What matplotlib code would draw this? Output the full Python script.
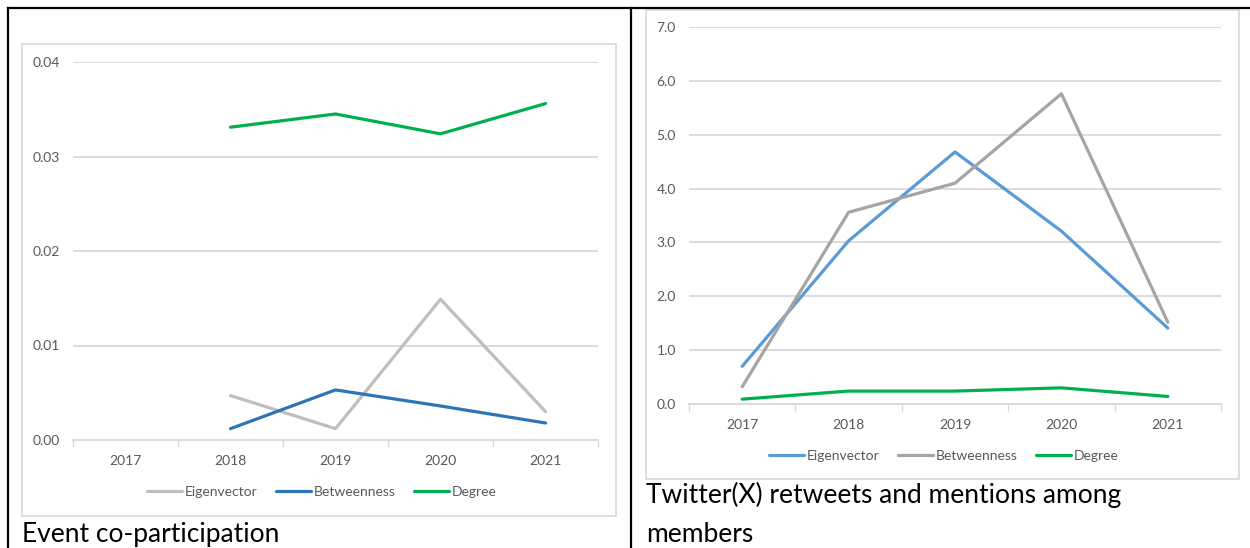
#!/usr/bin/env python3
"""Two Excel-style centrality line charts side by side, with captions, table borders."""

import matplotlib
matplotlib.use("Agg")
import matplotlib.pyplot as plt
from matplotlib.lines import Line2D
from matplotlib.patches import Rectangle

W, H = 1250, 548

years = ["2017", "2018", "2019", "2020", "2021"]

# Event co-participation (no value for 2017)
event_eigen = [None, 0.0047, 0.0012, 0.0149, 0.0030]
event_betw = [None, 0.0012, 0.0053, 0.0036, 0.0018]
event_degree = [None, 0.0331, 0.0345, 0.0324, 0.0356]
event_yticks = [0.00, 0.01, 0.02, 0.03, 0.04]

# Twitter(X) retweets and mentions
tw_eigen = [0.70, 3.03, 4.68, 3.21, 1.41]
tw_betw = [0.32, 3.56, 4.10, 5.76, 1.52]
tw_degree = [0.09, 0.24, 0.24, 0.30, 0.14]
tw_yticks = [0.0, 1.0, 2.0, 3.0, 4.0, 5.0, 6.0, 7.0]

FONT = "Lato"
TICK_COLOR = "#595959"
GRID_COLOR = "#D9D9D9"
FRAME_COLOR = "#D9D9D9"


def fx(px):
    return px / W


def fy(py):
    return 1 - py / H


def add_axes(fig, x0, x1, y_top, y_bot):
    return fig.add_axes([fx(x0), fy(y_bot), fx(x1) - fx(x0), fy(y_top) - fy(y_bot)])


def style_axes(ax, yticks, fmt):
    ax.set_xlim(-0.5, len(years) - 0.5)
    ax.set_ylim(yticks[0], yticks[-1])
    ax.set_xticks(range(len(years)))
    ax.set_xticklabels(years)
    ax.set_xticks([i - 0.5 for i in range(len(years) + 1)], minor=True)
    ax.tick_params(axis="x", which="major", length=0, pad=11,
                   labelsize=10, labelcolor=TICK_COLOR)
    ax.tick_params(axis="x", which="minor", length=5, width=1, color=GRID_COLOR,
                   direction="out")
    ax.set_yticks(yticks)
    ax.set_yticklabels([fmt.format(v) for v in yticks])
    ax.tick_params(axis="y", length=0, pad=9.5, labelsize=10, labelcolor=TICK_COLOR)
    for lab in ax.get_xticklabels() + ax.get_yticklabels():
        lab.set_fontfamily(FONT)
    ax.grid(axis="y", color=GRID_COLOR, linewidth=1.3)
    ax.set_axisbelow(True)
    for side in ["top", "right", "left"]:
        ax.spines[side].set_visible(False)
    ax.spines["bottom"].set_color(GRID_COLOR)
    ax.spines["bottom"].set_linewidth(1.3)
    ax.set_facecolor("none")


def plot_series(ax, values, color, label):
    xs = [i for i, v in enumerate(values) if v is not None]
    ys = [v for v in values if v is not None]
    ax.plot(xs, ys, color=color, linewidth=2.3, label=label,
            solid_capstyle="round", solid_joinstyle="round")


def legend(ax, fig, cx, cy):
    h, l = ax.get_legend_handles_labels()
    fig.legend(h, l, loc="center", bbox_to_anchor=(fx(cx), fy(cy)), ncol=3,
               frameon=False, handlelength=2.5, handletextpad=0.2,
               columnspacing=1.35, prop={"family": FONT, "size": 10},
               labelcolor=TICK_COLOR)


fig = plt.figure(figsize=(W / 100, H / 100), dpi=100)

# table borders
for xs, ys in [((8, W), (8, 8)), ((8, 8), (8, H)), ((631, 631), (8, H))]:
    fig.add_artist(Line2D([fx(x) for x in xs], [fy(y) for y in ys],
                          color="black", linewidth=1.6))

# chart frames
fig.add_artist(Rectangle((fx(22), fy(516)), fx(616) - fx(22), fy(44) - fy(516),
                         fill=False, edgecolor=FRAME_COLOR, linewidth=1.2))
fig.add_artist(Rectangle((fx(646), fy(479)), fx(1239) - fx(646), fy(10) - fy(479),
                         fill=False, edgecolor=FRAME_COLOR, linewidth=1.2))

# left chart
ax1 = add_axes(fig, 73, 598, 62, 440)
plot_series(ax1, event_eigen, "#BFBFBF", "Eigenvector")
plot_series(ax1, event_betw, "#2E75B6", "Betweenness")
plot_series(ax1, event_degree, "#00B050", "Degree")
style_axes(ax1, event_yticks, "{:.2f}")
legend(ax1, fig, 322, 492)

# right chart
ax2 = add_axes(fig, 689, 1221, 27, 404)
plot_series(ax2, tw_eigen, "#5B9BD5", "Eigenvector")
plot_series(ax2, tw_betw, "#A5A5A5", "Betweenness")
plot_series(ax2, tw_degree, "#00B050", "Degree")
style_axes(ax2, tw_yticks, "{:.1f}")
legend(ax2, fig, 944, 456)

# captions
fig.text(fx(22), fy(542), "Event co-participation", family=FONT, fontsize=19,
         ha="left", va="baseline", color="black")
fig.text(fx(646), fy(503), "Twitter(X) retweets and mentions among", family=FONT,
         fontsize=19, ha="left", va="baseline", color="black")
fig.text(fx(646), fy(542), "members", family=FONT, fontsize=19,
         ha="left", va="baseline", color="black")

fig.savefig("out.png", dpi=100)
